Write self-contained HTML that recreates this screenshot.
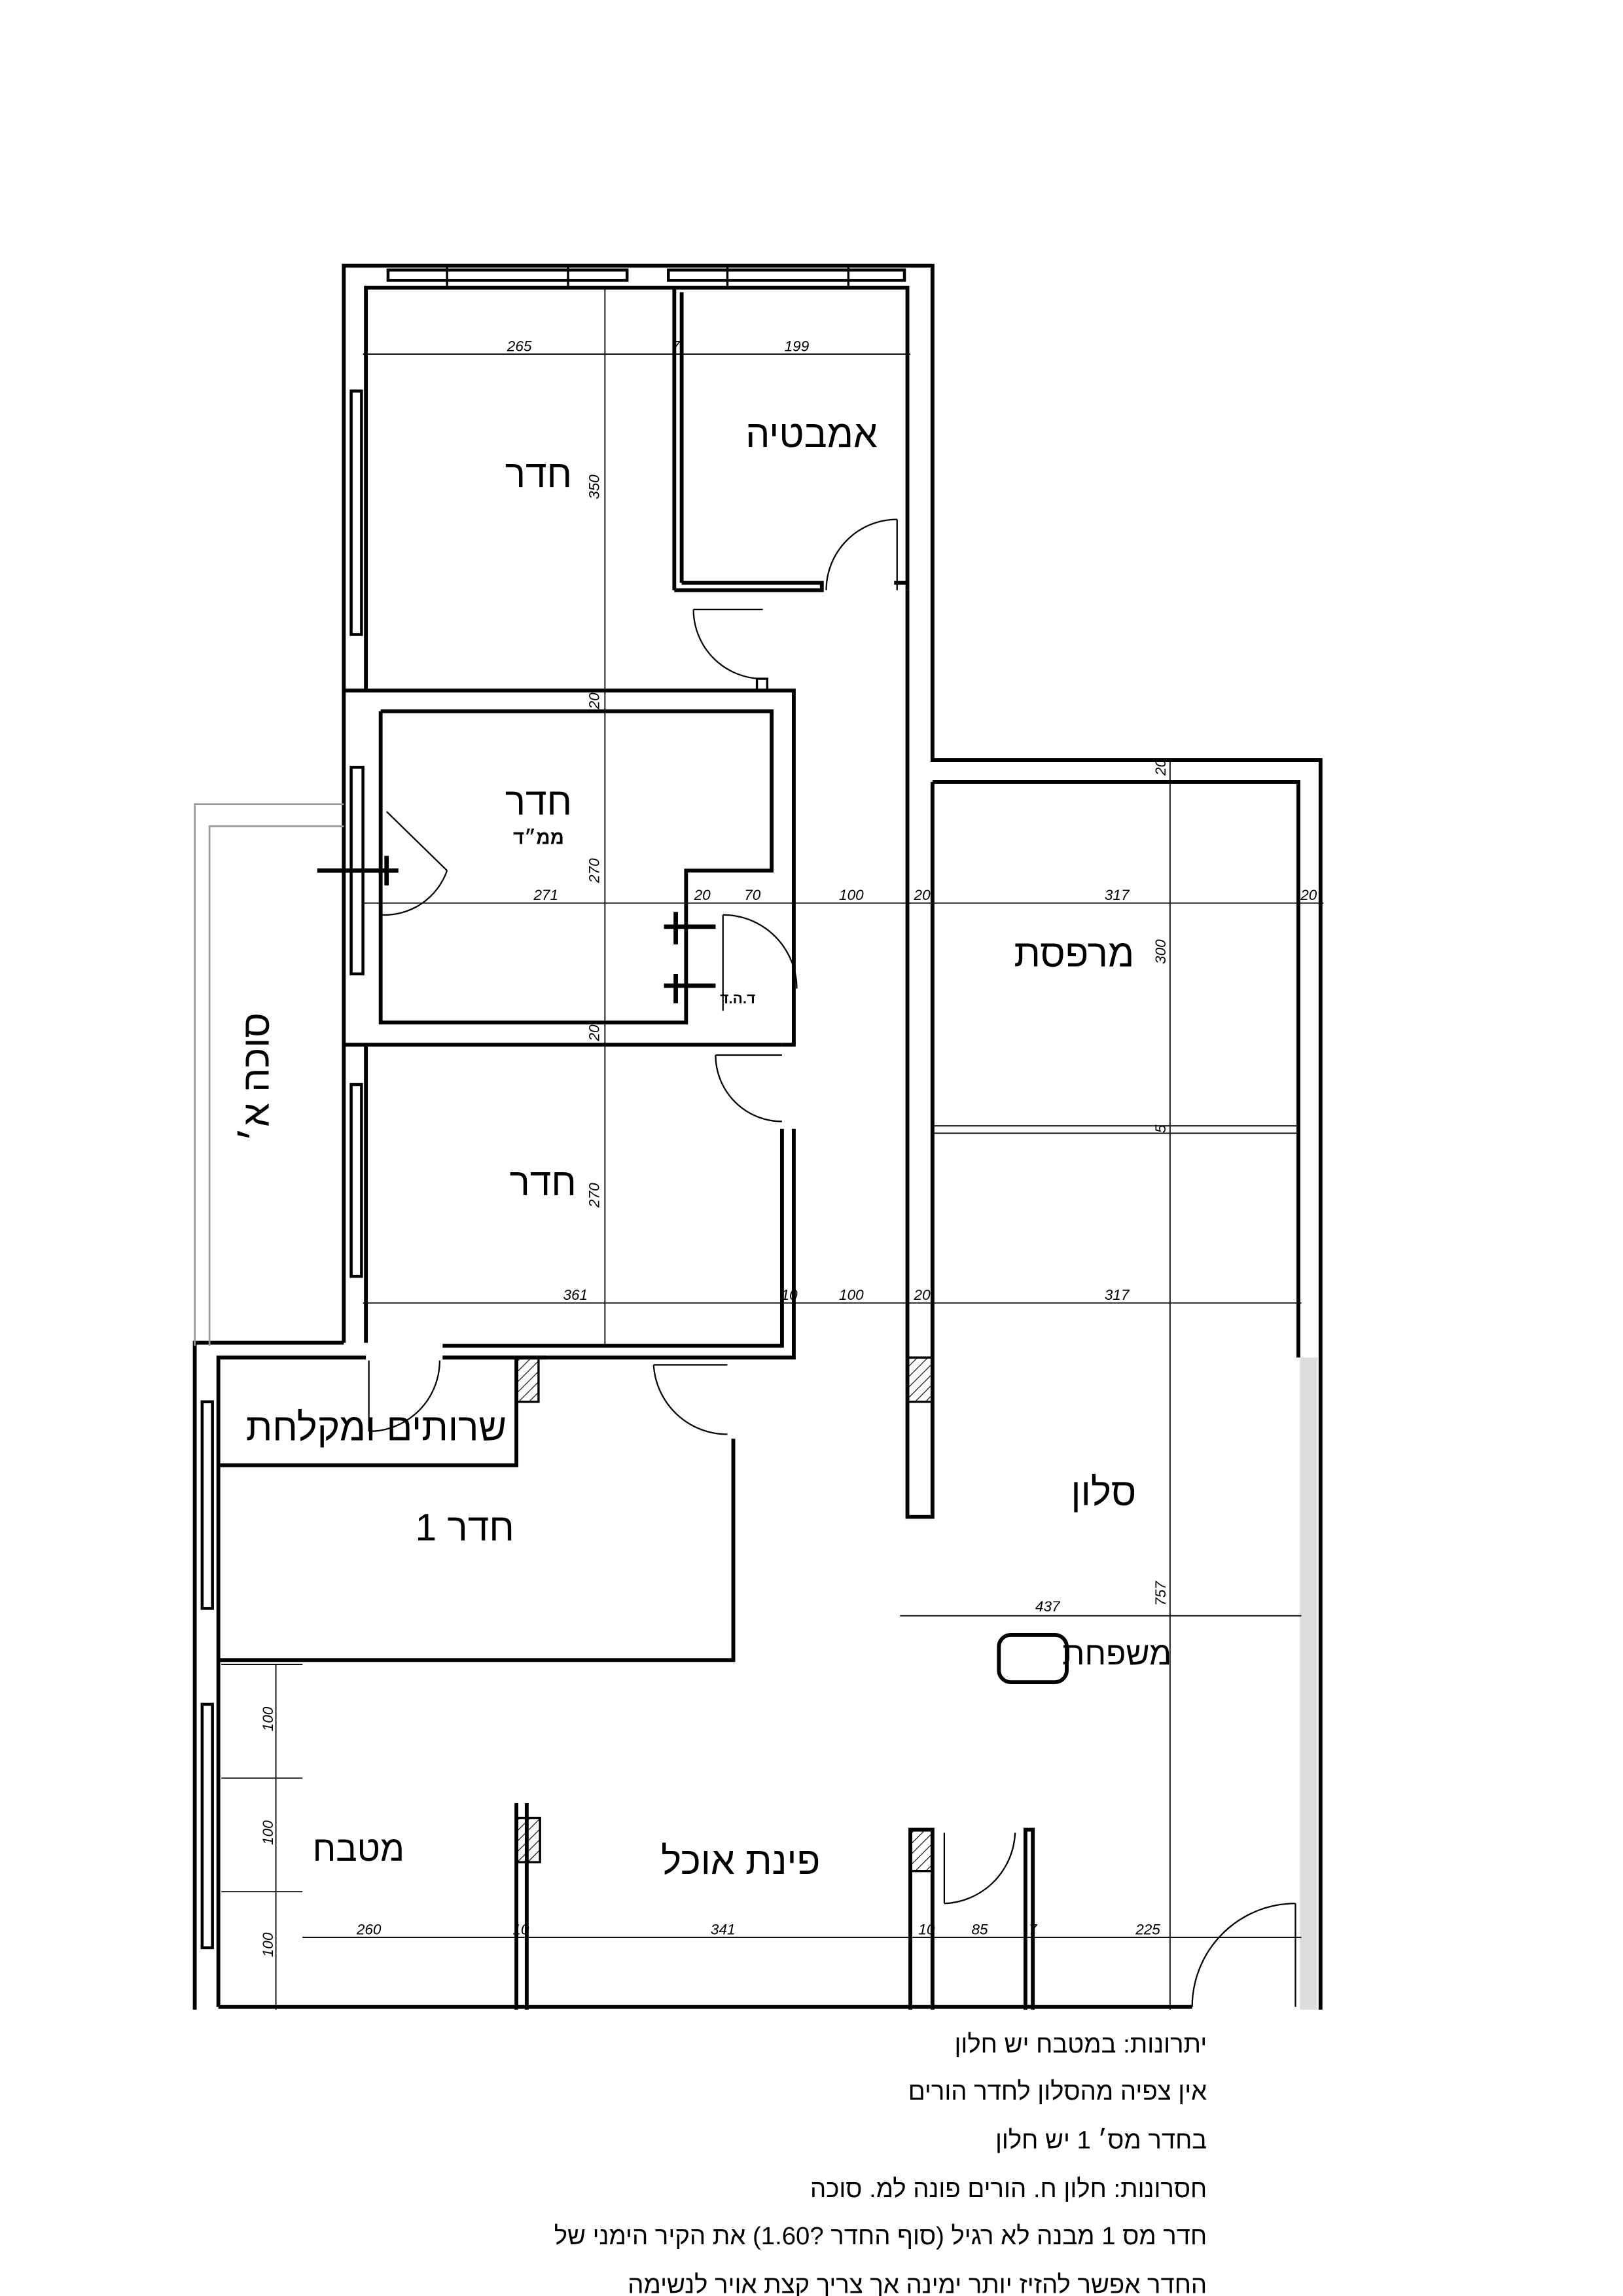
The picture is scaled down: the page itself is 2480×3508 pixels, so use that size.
<!DOCTYPE html>
<html><head><meta charset="utf-8"><style>html,body{margin:0;padding:0;background:#fff}svg{display:block}text{font-family:"Liberation Sans","DejaVu Sans",sans-serif}</style></head><body>
<svg width="2480" height="3508" viewBox="0 0 1100 1556" preserveAspectRatio="none" xmlns="http://www.w3.org/2000/svg">
<defs><pattern id="h" width="5" height="5" patternUnits="userSpaceOnUse" patternTransform="rotate(45)"><line x1="0" y1="0" x2="0" y2="5" stroke="#000" stroke-width="1"/></pattern></defs>
<rect width="1100" height="1556" fill="#fff"/>
<g fill="none" stroke="#000" stroke-width="2.6">
<polyline points="233,910 233,180 632,180 632,515 895,515 895,1362"/>
<polyline points="880,920 880,530 632,530"/>
<polyline points="248,468 248,195 615,195 615,400"/>
<polyline points="457,400 457,195"/>
<polyline points="462,395 462,198"/>
<polyline points="457,400 557,400 557,395 462,395"/>
<line x1="606" y1="395" x2="615" y2="395"/>
<polyline points="233,468 538,468 538,708 530,708"/>
<polyline points="258,482 523,482 523,590 465,590 465,693 258,693 258,482"/>
<line x1="233" y1="708" x2="530" y2="708"/>
<rect x="513" y="460" width="7" height="8" stroke-width="1.5"/>
<polyline points="248,708 248,910"/>
<polyline points="530,765 530,912 300,912"/>
<polyline points="538,765 538,920 300,920"/>
<polyline points="615,400 615,1028 632,1028 632,530"/>
<polyline points="233,910 132,910 132,1362"/>
<polyline points="148,1360 148,920 248,920"/>
<line x1="300" y1="920" x2="370" y2="920"/>
<polyline points="148,993 350,993 350,920"/>
<polyline points="148,1125 497,1125 497,975"/>
<line x1="148" y1="1360" x2="808" y2="1360"/>
<polyline points="350,1362 350,1222"/><polyline points="357,1362 357,1222"/>
<polyline points="617,1362 617,1240 632,1240 632,1362"/>
<polyline points="695,1362 695,1240 700,1240 700,1362"/>
<rect x="677" y="1108" width="46" height="32" rx="8"/>
</g>
<g fill="#fff" stroke="#000" stroke-width="2">
<rect x="263" y="183" width="162" height="7"/><rect x="453" y="183" width="160" height="7"/>
<rect x="238" y="265" width="7" height="165"/><rect x="238" y="735" width="7" height="130"/>
<rect x="137" y="950" width="7" height="140"/><rect x="137" y="1155" width="7" height="165"/>
<rect x="238" y="520" width="8" height="140"/>
</g>
<g stroke="#000" stroke-width="1.5"><line x1="303" y1="180" x2="303" y2="195"/><line x1="385" y1="180" x2="385" y2="195"/><line x1="493" y1="180" x2="493" y2="195"/><line x1="575" y1="180" x2="575" y2="195"/>
<line x1="215" y1="590" x2="270" y2="590" stroke-width="3"/><line x1="262" y1="580" x2="262" y2="600" stroke-width="3"/>
<line x1="450" y1="628" x2="485" y2="628" stroke-width="3"/><line x1="450" y1="668" x2="485" y2="668" stroke-width="3"/>
<line x1="458" y1="618" x2="458" y2="640" stroke-width="3"/><line x1="458" y1="660" x2="458" y2="680" stroke-width="3"/>
</g>
<g stroke="#000" stroke-width="1.5" fill="url(#h)">
<rect x="350" y="920" width="15" height="30"/><rect x="615" y="920" width="17" height="30"/>
<rect x="350" y="1232" width="16" height="30"/><rect x="617" y="1240" width="15" height="28"/>
</g>
<rect x="881" y="920" width="12" height="442" fill="#ddd"/>
<g fill="none" stroke="#999" stroke-width="1.2"><polyline points="233,545 132,545 132,912"/><polyline points="233,560 142,560 142,912"/></g>
<g fill="none" stroke="#000" stroke-width="1">
<path d="M560,400 A48,48 0 0 1 608,352"/><line x1="608" y1="352" x2="608" y2="400"/>
<path d="M517,460 A47,47 0 0 1 470,413"/><line x1="470" y1="413" x2="517" y2="413"/>
<path d="M258,620 A45,45 0 0 0 303,590"/><line x1="262" y1="550" x2="303" y2="590"/>
<path d="M490,620 A50,50 0 0 1 540,670"/><line x1="490" y1="620" x2="490" y2="685"/>
<path d="M530,760 A45,45 0 0 1 485,715"/><line x1="485" y1="715" x2="530" y2="715"/>
<path d="M250,970 A48,48 0 0 0 298,922"/><line x1="250" y1="922" x2="250" y2="970"/>
<path d="M493,972 A50,50 0 0 1 443,925"/><line x1="443" y1="925" x2="493" y2="925"/>
<path d="M640,1290 A50,50 0 0 0 688,1242"/><line x1="640" y1="1242" x2="640" y2="1290"/>
<path d="M808,1360 A70,70 0 0 1 878,1290"/><line x1="878" y1="1290" x2="878" y2="1360"/>
</g>
<g stroke="#000" stroke-width="0.8" fill="none">
<line x1="246" y1="240" x2="617" y2="240"/><line x1="246" y1="612" x2="897" y2="612"/><line x1="246" y1="883" x2="882" y2="883"/>
<line x1="410" y1="195" x2="410" y2="912"/><line x1="793" y1="515" x2="793" y2="1362"/>
<line x1="610" y1="1095" x2="882" y2="1095"/><line x1="632" y1="763" x2="880" y2="763"/><line x1="632" y1="768" x2="880" y2="768"/>
<line x1="205" y1="1313" x2="882" y2="1313"/><line x1="187" y1="1128" x2="187" y2="1362"/>
<line x1="150" y1="1128" x2="205" y2="1128"/><line x1="150" y1="1205" x2="205" y2="1205"/><line x1="150" y1="1282" x2="205" y2="1282"/>
</g>
<g font-size="10" font-style="italic" text-anchor="middle" fill="#000">
<text x="352" y="238">265</text><text x="458" y="238">7</text><text x="540" y="238">199</text>
<text x="370" y="610">271</text><text x="476" y="610">20</text><text x="510" y="610">70</text><text x="577" y="610">100</text><text x="625" y="610">20</text><text x="757" y="610">317</text><text x="887" y="610">20</text>
<text x="390" y="881">361</text><text x="535" y="881">10</text><text x="577" y="881">100</text><text x="625" y="881">20</text><text x="757" y="881">317</text>
<text x="710" y="1092">437</text>
<text x="250" y="1311">260</text><text x="353" y="1311">10</text><text x="490" y="1311">341</text><text x="628" y="1311">10</text><text x="664" y="1311">85</text><text x="700" y="1311">7</text><text x="778" y="1311">225</text>
<text transform="translate(406,330) rotate(-90)">350</text><text transform="translate(406,475) rotate(-90)">20</text><text transform="translate(406,590) rotate(-90)">270</text><text transform="translate(406,700) rotate(-90)">20</text><text transform="translate(406,810) rotate(-90)">270</text>
<text transform="translate(790,520) rotate(-90)">20</text><text transform="translate(790,645) rotate(-90)">300</text><text transform="translate(790,765) rotate(-90)">5</text><text transform="translate(790,1080) rotate(-90)">757</text>
<text transform="translate(185,1165) rotate(-90)">100</text><text transform="translate(185,1242) rotate(-90)">100</text><text transform="translate(185,1318) rotate(-90)">100</text>
</g>
<g font-size="26" text-anchor="middle" fill="#000">
<text x="365" y="330">חדר</text><text x="550" y="303">אמבטיה</text><text x="365" y="552">חדר</text>
<text x="365" y="572" font-size="13" font-weight="bold">ממ״ד</text>
<text x="728" y="655">מרפסת</text><text x="368" y="810">חדר</text>
<text x="255" y="976">שרותים ומקלחת</text><text x="315" y="1044">חדר 1</text>
<text x="748" y="1020">סלון</text><text x="757" y="1128" font-size="22">משפחת</text>
<text x="243" y="1261" font-size="24">מטבח</text><text x="502" y="1270">פינת אוכל</text>
<text transform="translate(182,730) rotate(-90)" font-size="26">סוכה א׳</text>
<text x="500" y="680" font-size="10" font-weight="bold">ד.ה.ד</text>
</g>
<g font-size="17" text-anchor="start" fill="#000" direction="rtl">
<text x="818" y="1391">יתרונות: במטבח יש חלון</text>
<text x="818" y="1423">אין צפיה מהסלון לחדר הורים</text>
<text x="818" y="1456">בחדר מס׳ 1 יש חלון</text>
<text x="818" y="1489">חסרונות: חלון ח. הורים פונה למ. סוכה</text>
<text x="818" y="1521">חדר מס 1 מבנה לא רגיל (סוף החדר ?1.60) את הקיר הימני של</text>
<text x="818" y="1554">החדר אפשר להזיז יותר ימינה אך צריך קצת אויר לנשימה</text>
</g>
</svg>
</body></html>
